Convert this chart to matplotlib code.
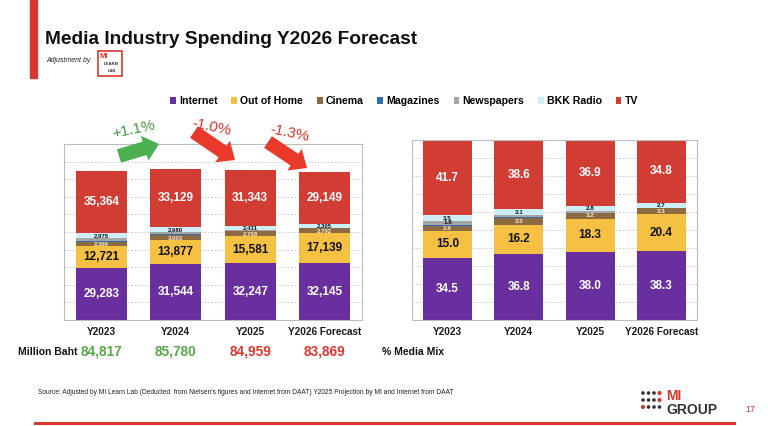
import matplotlib
matplotlib.use("Agg")
from matplotlib import pyplot as plt
from matplotlib import patches

years = ['Y2023', 'Y2024', 'Y2025', 'Y2026 Forecast']
media = ['Internet', 'Out of Home', 'Cinema', 'Magazines', 'Newspapers', 'BKK Radio', 'TV']
colors = ['#6a2f9f', '#f6c143', '#8d6a3f', '#2f6db5', '#a6a6a6', '#cdeef7', '#d13c33']
label_colors = ['white', '#111111', '#f3ead8', 'white', '#111111', '#111111', 'white']

# spending, million baht
internet = [29283, 31544, 32247, 32145]
out_of_home = [12721, 13877, 15581, 17139]
cinema = [2366, 3003, 2708, 2792]
magazines = [581, 430, 170, 90]
newspapers = [1527, 1117, 479, 249]
bkk_radio = [2975, 2680, 2431, 2305]
tv = [35364, 33129, 31343, 29149]

# media mix, percent
internet_pct = [34.5, 36.8, 38.0, 38.3]
out_of_home_pct = [15.0, 16.2, 18.3, 20.4]
cinema_pct = [2.8, 3.5, 3.2, 3.3]
magazines_pct = [0.7, 0.5, 0.2, 0.1]
newspapers_pct = [1.8, 1.3, 0.6, 0.4]
bkk_radio_pct = [3.5, 3.1, 2.8, 2.7]
tv_pct = [41.7, 38.6, 36.9, 34.8]

baht = [internet, out_of_home, cinema, magazines, newspapers, bkk_radio, tv]
mix = [internet_pct, out_of_home_pct, cinema_pct, magazines_pct,
       newspapers_pct, bkk_radio_pct, tv_pct]

W, H = 768, 426
FONT = ['Liberation Sans Narrow', 'Liberation Sans', 'DejaVu Sans']
plt.rcParams['font.family'] = ['Liberation Sans', 'DejaVu Sans']

fig = plt.figure(figsize=(W / 100, H / 100), dpi=100)


def box(x0, x1, y_top, y_bot):
    """Axes rectangle from pixel edges."""
    return [x0 / W, 1 - y_bot / H, (x1 - x0) / W, (y_bot - y_top) / H]


def stacked(ax, series, big_min, small_min, fmt, small_size):
    """Stacked bars with centered value labels; returns the column totals."""
    bottom = [0] * len(years)
    for i, values in enumerate(series):
        bars = ax.bar(range(len(years)), values, 0.69, bottom=bottom,
                      color=colors[i], label=media[i], zorder=2)
        labels = [fmt(v) if v >= small_min else '' for v in values]
        big = min(values) >= big_min
        ax.bar_label(bars, labels=labels, label_type='center',
                     color=label_colors[i], fontweight='bold',
                     fontsize=8.5 if big else small_size)
        bottom = [b + v for b, v in zip(bottom, values)]
    return bottom


def style(ax, top, step):
    ax.set_xlim(-0.5, 3.5)
    ax.set_ylim(0, top)
    ax.set_yticks(range(0, top + 1, step))
    ax.set_yticklabels([])
    ax.yaxis.grid(True, linestyle=(0, (2, 2)), color='#c8c8c8', linewidth=0.6)
    ax.set_axisbelow(True)
    ax.tick_params(length=0)
    ax.set_xticks(range(len(years)))
    ax.set_xticklabels(years, fontsize=7.2, fontweight='bold', color='#1a1a1a',
                       family=FONT)
    ax.tick_params(axis='x', pad=5)
    for s in ax.spines.values():
        s.set_color('#bdbdbd')
        s.set_linewidth(0.8)


ax1 = fig.add_axes(box(64, 362, 144, 320))
totals = stacked(ax1, baht, 10000, 2000, lambda v: f'{v:,}', 4.3)
style(ax1, 100000, 10000)

ax2 = fig.add_axes(box(412, 697, 140, 320))
stacked(ax2, mix, 10, 1.5, lambda v: f'{v:.1f}', 4.5)
style(ax2, 100, 10)

# overlay in pixel space for decorations
ov = fig.add_axes([0, 0, 1, 1], zorder=10)
ov.set_xlim(0, W)
ov.set_ylim(H, 0)
ov.axis('off')
ov.patch.set_alpha(0)

ov.add_patch(patches.Rectangle((30, 0), 7, 78, color='#d8362e'))
ov.text(45, 40, 'Media Industry Spending Y2026 Forecast', fontsize=13.8,
        fontweight='bold', va='center', ha='left', color='#111111', family=FONT)
ov.text(46, 61, 'Adjustment by', fontsize=5, style='italic', va='center',
        color='#222222')
ov.add_patch(patches.Rectangle((98, 51), 24, 25, fill=False, edgecolor='#d8362e',
                               linewidth=1.2))
ov.text(100, 56, 'MI', fontsize=5.5, fontweight='bold', color='#d8362e', va='center')
ov.text(104, 64, 'LEARN', fontsize=3.2, fontweight='bold', color='#333333', va='center')
ov.text(108, 71, 'LAB', fontsize=3, fontweight='bold', color='#333333', va='center')

fig.legend(ax2.containers, media, loc='center', bbox_to_anchor=(404 / W, 1 - 101 / H),
           ncol=7, frameon=False, handlelength=0.55,
           handleheight=0.6, handletextpad=0.3, columnspacing=1.3,
           prop={'family': FONT, 'weight': 'bold', 'size': 7.6})

# year-over-year change arrows
changes = [(totals[i + 1] - totals[i]) / totals[i] * 100 for i in range(3)]
arrow_spots = [((119, 156), (159, 144), (134, 130), 12),
               ((194, 132), (235, 160), (212, 127), -12),
               ((268, 142), (307, 168), (290, 133), -12)]
for ch, (tail, tip, txt, rot) in zip(changes, arrow_spots):
    col = '#4caf50' if ch >= 0 else '#e8392b'
    ov.add_patch(patches.FancyArrow(tail[0], tail[1], tip[0] - tail[0], tip[1] - tail[1],
                                    width=14, head_width=26, head_length=15,
                                    length_includes_head=True, color=col,
                                    linewidth=0))
    txt_col = '#4a9a44' if ch >= 0 else '#d8362e'
    ov.text(txt[0], txt[1], f'{ch:+.1f}%', fontsize=11, color=txt_col,
            rotation=rot, ha='center', va='center', family=FONT)

# totals row
ov.text(18, 352, 'Million Baht', fontsize=7.5, fontweight='bold', va='center',
        color='#111111', family=FONT)
for i, t in enumerate(totals):
    up = i == 0 or t >= totals[i - 1]
    ax1.text(i, -0.18, f'{t:,}', transform=ax1.get_xaxis_transform(),
             ha='center', va='center', fontsize=9.8, fontweight='bold',
             color='#57a84a' if up else '#e0362f', family=FONT)
ov.text(382, 352, '% Media Mix', fontsize=7.5, fontweight='bold', va='center',
        color='#111111', family=FONT)

ov.text(38, 393, "Source: Adjusted by MI Learn Lab (Deducted  from Nielsen's figures and "
        "Internet from DAAT) Y2025 Projection by MI and Internet from DAAT",
        fontsize=4.8, va='center', color='#222222', family=FONT)

# MI GROUP logo
for r in range(3):
    for c in range(4):
        red = (r == 2 and c == 0) or (c == 3 and r < 2)
        ov.add_patch(patches.Circle((643 + c * 5.5, 393 + r * 7), 1.4 if red else 1.1,
                                    color='#d8362e' if red else '#333333'))
ov.text(666, 396, 'MI', fontsize=10, fontweight='bold', color='#d8362e', va='center')
ov.text(666, 410, 'GROUP', fontsize=10, fontweight='bold', color='#333333', va='center')
ov.text(745, 410, '17', fontsize=6.5, color='#c0392b', va='center')
ov.plot([35, 734], [423, 423], color='#d8362e', linewidth=2.2)

fig.savefig('out.png', dpi=100)
